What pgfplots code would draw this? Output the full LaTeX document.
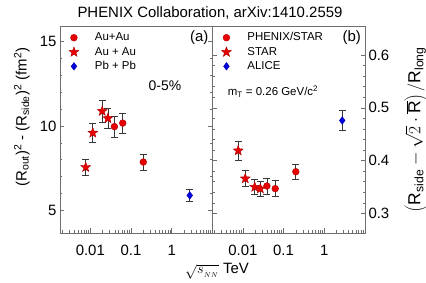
\documentclass[border=0pt]{standalone}
\usepackage{fontspec}
\setmainfont{Liberation Sans}
\usepackage{pgfplots}
\usepackage{pgfplotstable}
\pgfplotsset{compat=1.18}
\usetikzlibrary{plotmarks}
\definecolor{mred}{RGB}{232,0,0}
\definecolor{mblue}{RGB}{0,0,225}
\definecolor{ebar}{RGB}{55,55,55}
\definecolor{frame}{RGB}{110,110,110}

\pgfdeclareplotmark{fstar}{%
  \pgfpathmoveto{\pgfpointpolar{90}{\pgfplotmarksize}}%
  \pgfpathlineto{\pgfpointpolar{126}{0.42\pgfplotmarksize}}%
  \pgfpathlineto{\pgfpointpolar{162}{\pgfplotmarksize}}%
  \pgfpathlineto{\pgfpointpolar{198}{0.42\pgfplotmarksize}}%
  \pgfpathlineto{\pgfpointpolar{234}{\pgfplotmarksize}}%
  \pgfpathlineto{\pgfpointpolar{270}{0.42\pgfplotmarksize}}%
  \pgfpathlineto{\pgfpointpolar{306}{\pgfplotmarksize}}%
  \pgfpathlineto{\pgfpointpolar{342}{0.42\pgfplotmarksize}}%
  \pgfpathlineto{\pgfpointpolar{18}{\pgfplotmarksize}}%
  \pgfpathlineto{\pgfpointpolar{54}{0.42\pgfplotmarksize}}%
  \pgfpathclose
  \pgfusepathqfillstroke
}

% sqrt(s_NN) [TeV], value, error
\pgfplotstableread{
x y e
0.039 9.96 0.63
0.0624 10.17 0.58
0.2 7.86 0.47
}\leftcirc
\pgfplotstableread{
x y e
0.0077 7.55 0.46
0.0115 9.59 0.56
0.0196 10.88 0.64
0.027 10.45 0.61
}\leftstar
\pgfplotstableread{
x y e
2.76 5.88 0.36
}\leftdiam
\pgfplotstableread{
x y e
0.039 0.352 0.015
0.0624 0.347 0.015
0.2 0.379 0.014
}\rightcirc
\pgfplotstableread{
x y e
0.0077 0.419 0.018
0.0115 0.366 0.015
0.0196 0.350 0.014
0.027 0.347 0.014
}\rightstar
\pgfplotstableread{
x y e
2.76 0.476 0.019
}\rightdiam

\pgfplotsset{
  legend image code/.code={\draw[mark repeat=2,mark phase=2,#1] plot coordinates {(0bp,0bp)(6bp,0bp)(12bp,0bp)};},
  every axis/.append style={
    scale only axis, width=152.5bp, height=206.5bp,
    xmin=0.0018, xmax=10,
    xtick={0.01,0.1,1,10}, xticklabels={0.01,0.1,1,},
    minor xtick={0.002,0.003,0.004,0.005,0.006,0.007,0.008,0.009,
                 0.02,0.03,0.04,0.05,0.06,0.07,0.08,0.09,
                 0.2,0.3,0.4,0.5,0.6,0.7,0.8,0.9,
                 2,3,4,5,6,7,8,9},
    xtick pos=bottom, ytick pos=both,
    tick align=inside,
    major tick length=4.5bp, minor tick length=2.5bp,
    axis line style={frame, line width=0.6bp},
    every tick/.style={frame, line width=0.6bp},
    tick label style={font=\fontsize{15}{18}\selectfont},
    xticklabel style={yshift=-8.5bp},
    /pgf/number format/assume math mode=true,
    clip=false,
    legend style={at={(axis description cs:0,1)}, anchor=north west,
      xshift=8.8bp, yshift=-6bp, draw=none, fill=none, inner sep=0pt,
      font=\fontsize{11.5}{12}\selectfont, row sep=4.2bp,
      nodes={inner sep=0pt, text height=8bp, text depth=2bp},
      /tikz/every odd column/.append style={column sep=16bp}},
    legend cell align=left,
  },
  ebars/.style={error bars/.cd, y dir=both, y explicit, error bar style={ebar, line width=0.7bp},
    error mark options={rotate=90, ebar, mark size=3.6bp, line width=0.7bp}},
}

\begin{document}
\begin{tikzpicture}
\begin{semilogxaxis}[at={(60bp,50bp)}, anchor=south west,
  ymin=3.65, ymax=15.9, ytick={5,10,15}, minor y tick num=4,
  ylabel={(R\textsubscript{out})\textsuperscript{2} - (R\textsubscript{side})\textsuperscript{2} (fm\textsuperscript{2})},
  ylabel style={at={(axis description cs:-0.25,0.562)}, anchor=center, font=\fontsize{15}{18}\selectfont},
]
\addplot[only marks, mark=*, mark size=3.4bp, mark options={fill=mred, draw=mred!75!black, line width=0.4bp}, ebars]
  table[x=x, y=y, y error=e] {\leftcirc};
\addlegendentry{Au+Au}
\addplot[only marks, mark=fstar, mark size=5.2bp, mark options={fill=mred, draw=mred!75!black, line width=0.4bp}, ebars]
  table[x=x, y=y, y error=e] {\leftstar};
\addlegendentry{Au + Au}
\addplot[only marks, mark=diamond*, mark size=3.8bp, mark options={fill=mblue, draw=mblue!75!black, line width=0.4bp}, ebars]
  table[x=x, y=y, y error=e] {\leftdiam};
\addlegendentry{Pb + Pb}
\end{semilogxaxis}

\begin{semilogxaxis}[at={(212.5bp,50bp)}, anchor=south west,
  ymin=0.263, ymax=0.654, ytick={0.3,0.4,0.5,0.6}, minor y tick num=4,
  yticklabel pos=right,
  yticklabel style={/pgf/number format/fixed, /pgf/number format/precision=1},
  ylabel={$\left(\mathrm{R_{side}}-\sqrt{2}\cdot\overline{\mathrm{R}}\right)/\mathrm{R_{long}}$},
  ylabel style={at={(axis description cs:1.335,0.5)}, anchor=center, font=\fontsize{17.5}{20}\selectfont},
]
\addplot[only marks, mark=*, mark size=3.4bp, mark options={fill=mred, draw=mred!75!black, line width=0.4bp}, ebars]
  table[x=x, y=y, y error=e] {\rightcirc};
\addlegendentry{PHENIX/STAR}
\addplot[only marks, mark=fstar, mark size=5.2bp, mark options={fill=mred, draw=mred!75!black, line width=0.4bp}, ebars]
  table[x=x, y=y, y error=e] {\rightstar};
\addlegendentry{STAR}
\addplot[only marks, mark=diamond*, mark size=3.8bp, mark options={fill=mblue, draw=mblue!75!black, line width=0.4bp}, ebars]
  table[x=x, y=y, y error=e] {\rightdiam};
\addlegendentry{ALICE}
\end{semilogxaxis}

\node[font=\fontsize{15}{18}\selectfont] at (210bp,269.7bp) {PHENIX Collaboration, arXiv:1410.2559};
\node[font=\fontsize{15}{18}\selectfont, anchor=east, inner sep=0pt] at (208.5bp,245bp) {(a)};
\node[font=\fontsize{15}{18}\selectfont, anchor=east, inner sep=0pt] at (361bp,245bp) {(b)};
\node[font=\fontsize{14}{16}\selectfont] at (165bp,197.7bp) {0-5\%};
\node[font=\fontsize{11.5}{13}\selectfont] at (273bp,191.3bp) {m\textsubscript{T} = 0.26 GeV/c\textsuperscript{2}};
\node[font=\fontsize{15}{18}\selectfont] at (217bp,12bp) {$\sqrt{s_{_{NN}}}$ TeV};

\pgfresetboundingbox
\path (0,0) rectangle (426bp,283bp);
\end{tikzpicture}
\end{document}
